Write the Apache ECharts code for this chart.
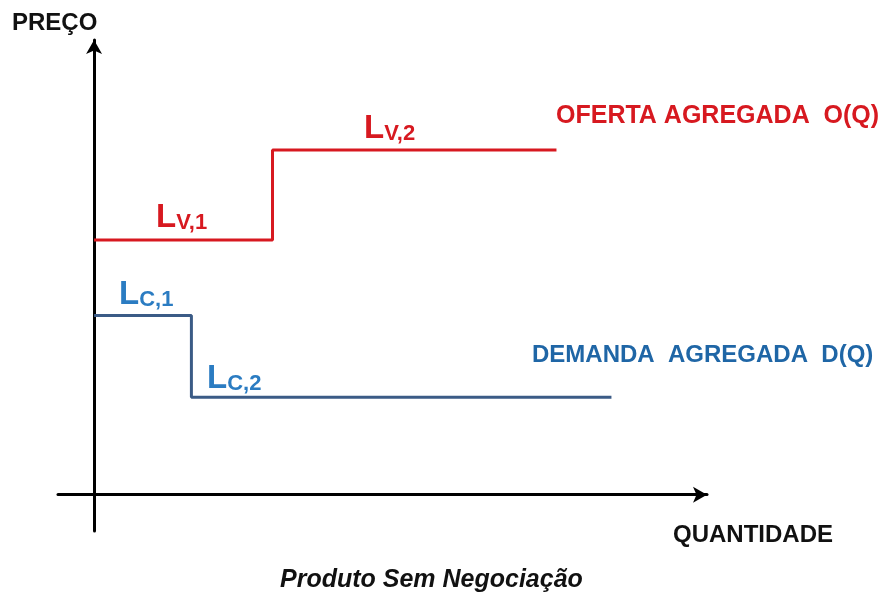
<!DOCTYPE html>
<html>
<head>
<meta charset="utf-8">
<script src="https://cdn.jsdelivr.net/npm/echarts@6/dist/echarts.min.js"></script>
<style>
  html, body { margin: 0; padding: 0; background: #fff; }
  #chart { width: 884px; height: 597px; }
</style>
</head>
<body>
<div id="chart"></div>
<script>
// oferta agregada (vendedores) e demanda agregada (compradores), em degraus
const supplyQ = [0, 19.8, 51.3];
const supplyP = [28, 37.9, 37.9];
const demandQ = [0, 10.8, 57.4];
const demandP = [19.7, 10.7, 10.7];

const red = '#d71920';
const blueLine = '#3b5b86';
const blueText = '#1f66a6';
const blueLabel = '#2b7cc2';
const font = "'Liberation Sans', Arial, sans-serif";

const el = document.getElementById('chart');
const chart = echarts.init(el, null, { renderer: 'canvas' });

const stepLabel = (x, y, sub, color) => ({
  type: 'text',
  x,
  y,
  style: {
    text: '{a|L}{b|' + sub + '}',
    fill: color,
    align: 'left',
    verticalAlign: 'bottom',
    rich: {
      a: { fontSize: 33, fontWeight: 'bold', fontFamily: font, fill: color, lineHeight: 33, verticalAlign: 'bottom' },
      b: { fontSize: 22, fontWeight: 'bold', fontFamily: font, fill: color, lineHeight: 27, verticalAlign: 'bottom' },
    },
  },
});

chart.setOption({
  animation: false,
  backgroundColor: '#fff',
  grid: { left: 58, right: 177, top: 40, bottom: 66, containLabel: false },
  xAxis: {
    type: 'value',
    min: -4,
    max: 68,
    axisLine: { onZero: true, lineStyle: { color: '#000', width: 3 }, symbol: ['none', 'arrow'], symbolSize: [12, 14] },
    axisTick: { show: false },
    axisLabel: { show: false },
    splitLine: { show: false },
  },
  yAxis: {
    type: 'value',
    min: -4,
    max: 50,
    axisLine: { onZero: true, lineStyle: { color: '#000', width: 3 }, symbol: ['none', 'arrow'], symbolSize: [12, 14] },
    axisTick: { show: false },
    axisLabel: { show: false },
    splitLine: { show: false },
  },
  series: [
    {
      name: 'Oferta agregada',
      type: 'line',
      step: 'end',
      symbol: 'none',
      lineStyle: { color: red, width: 3 },
      data: supplyQ.map((q, i) => [q, supplyP[i]]),
      z: 3,
    },
    {
      name: 'Demanda agregada',
      type: 'line',
      step: 'end',
      symbol: 'none',
      lineStyle: { color: blueLine, width: 3 },
      data: demandQ.map((q, i) => [q, demandP[i]]),
      z: 3,
    },
  ],
  graphic: [
    { type: 'text', x: 12, y: 23, style: { text: 'PREÇO', font: 'bold 24px ' + font, fill: '#111', verticalAlign: 'middle' } },
    { type: 'text', x: 673, y: 535, style: { text: 'QUANTIDADE', font: 'bold 24px ' + font, fill: '#111', verticalAlign: 'middle' } },
    { type: 'text', x: 556, y: 116, style: { text: 'OFERTA AGREGADA  O(Q)', font: 'bold 25px ' + font, fill: red, verticalAlign: 'middle' } },
    { type: 'text', x: 532, y: 355, style: { text: 'DEMANDA  AGREGADA  D(Q)', font: 'bold 24px ' + font, fill: blueText, verticalAlign: 'middle' } },
    { type: 'text', x: 280, y: 580, style: { text: 'Produto Sem Negociação', font: 'italic bold 25px ' + font, fill: '#111', verticalAlign: 'middle' } },
    stepLabel(156, 234, 'V,1', red),
    stepLabel(364, 145, 'V,2', red),
    stepLabel(119, 311, 'C,1', blueLabel),
    stepLabel(207, 395, 'C,2', blueLabel),
  ],
});
</script>
</body>
</html>
